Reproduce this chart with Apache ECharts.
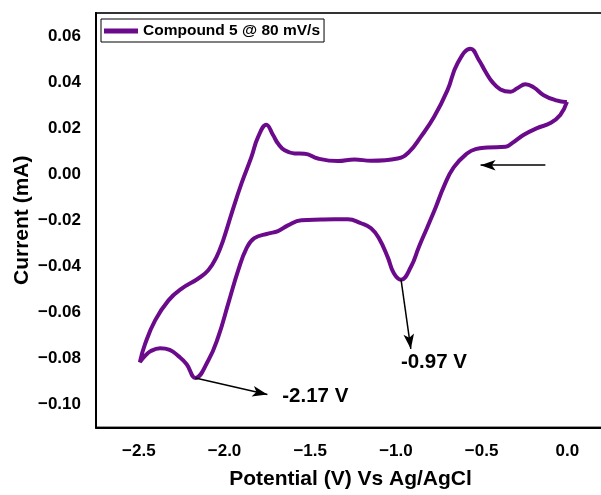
<!DOCTYPE html>
<html>
<head>
<meta charset="utf-8">
<script src="https://cdn.jsdelivr.net/npm/echarts/dist/echarts.min.js"></script>
<style>
  html, body { margin: 0; padding: 0; background: #ffffff; }
  #chart { width: 601px; height: 495px; }
</style>
</head>
<body>
<div id="chart"></div>
<script>
// Cyclic voltammogram: scan starts near 0 V, runs cathodic to -2.5 V, then back.
const potential = [
  -0.002, -0.041, -0.099, -0.176, -0.256, -0.322, -0.360, -0.467, -0.535, -0.583,
  -0.663, -0.721, -0.767, -0.816, -0.866, -0.913, -0.970, -1.012, -1.048, -1.099,
  -1.145, -1.203, -1.281, -1.360, -1.436, -1.552, -1.630, -1.688, -1.746, -1.826,
  -1.872, -1.920, -1.978, -2.037, -2.095, -2.170, -2.221, -2.269, -2.320, -2.376,
  -2.430, -2.465, -2.494,
  -2.463, -2.405, -2.327, -2.250, -2.153, -2.095, -2.047, -2.008, -1.959, -1.901,
  -1.843, -1.804, -1.756, -1.717, -1.688, -1.649, -1.591, -1.533, -1.455, -1.339,
  -1.242, -1.145, -0.990, -0.923, -0.855, -0.777, -0.699, -0.641, -0.564, -0.516,
  -0.477, -0.438, -0.390, -0.331, -0.292, -0.244, -0.196, -0.138, -0.070, -0.012,
  -0.002
];
const current = [
  0.0314, 0.0257, 0.0222, 0.0200, 0.0170, 0.0135, 0.0119, 0.0116, 0.0109, 0.0091,
  0.0030, -0.0055, -0.0142, -0.0229, -0.0316, -0.0403, -0.0458, -0.0430, -0.0360, -0.0278,
  -0.0235, -0.0213, -0.0196, -0.0196, -0.0197, -0.0200, -0.0222, -0.0247, -0.0258, -0.0278,
  -0.0322, -0.0417, -0.0561, -0.0707, -0.0809, -0.0885, -0.0825, -0.0790, -0.0763, -0.0756,
  -0.0768, -0.0790, -0.0816,
  -0.0736, -0.0635, -0.0548, -0.0497, -0.0453, -0.0417, -0.0360, -0.0287, -0.0171, -0.0040,
  0.0075, 0.0162, 0.0215, 0.0170, 0.0133, 0.0104, 0.0090, 0.0089, 0.0068, 0.0057,
  0.0064, 0.0058, 0.0068, 0.0097, 0.0162, 0.0249, 0.0365, 0.0481, 0.0545, 0.0496,
  0.0445, 0.0401, 0.0368, 0.0358, 0.0373, 0.0391, 0.0377, 0.0343, 0.0322, 0.0314,
  0.0314
];

const seriesName = 'Compound 5 @ 80 mV/s';

// Cathodic peaks: potential (V), current (mA), label text
const peakPotential = [-2.17, -0.97];
const peakCurrent = [-0.0885, -0.0458];
const peakText = ['-2.17 V', '-0.97 V'];
// Where each peak arrow ends and where its label sits (data units)
const arrowTip = [[-1.750, -0.0957], [-0.913, -0.0759]];
const labelAnchor = [[-1.663, -0.0965], [-0.971, -0.0815]];
// Scan-direction arrow (start, tip)
const scanArrow = [[-0.128, 0.0039], [-0.506, 0.0039]];

const FONT = '"Liberation Sans", Arial, Helvetica, sans-serif';
const PURPLE = '#6b0b8c';

function minusSign(s) { return s.replace('-', '\u2212'); }

const curve = potential.map((v, i) => [v, current[i]]);

const arrowLines = peakPotential.map((v, i) => [
  { coord: [v, peakCurrent[i]] },
  { coord: arrowTip[i] }
]);
arrowLines.push([{ coord: scanArrow[0] }, { coord: scanArrow[1] }]);

const chart = echarts.init(document.getElementById('chart'), null, { renderer: 'canvas' });

chart.setOption({
  animation: false,
  backgroundColor: '#ffffff',
  textStyle: { fontFamily: FONT },
  grid: {
    left: 96, top: 13, width: 509, height: 414.5,
    containLabel: false,
    outerBoundsMode: 'none',
    show: true, borderColor: '#333333', borderWidth: 2
  },
  legend: {
    data: [seriesName],
    left: 101, top: 19,
    orient: 'horizontal',
    icon: 'rect',
    itemWidth: 34, itemHeight: 5,
    padding: [4, 4, 3, 3],
    borderColor: '#000000', borderWidth: 1,
    backgroundColor: '#ffffff',
    textStyle: { fontFamily: FONT, fontWeight: 'bold', fontSize: 15.5, color: '#000000' }
  },
  xAxis: {
    type: 'value',
    min: -2.75, max: 0.22, interval: 0.25,
    name: 'Potential (V) Vs Ag/AgCl',
    nameLocation: 'middle', nameGap: 41,
    nameMoveOverlap: false,
    nameTextStyle: { fontFamily: FONT, fontWeight: 'bold', fontSize: 21, color: '#000000' },
    axisLine: { show: true, onZero: false, lineStyle: { color: '#000000', width: 2 } },
    axisTick: { show: false },
    splitLine: { show: false },
    axisLabel: {
      margin: 15, fontFamily: FONT, fontWeight: 'bold', fontSize: 17, color: '#000000',
      formatter: function (v) {
        const q = Math.round(v * 4);
        if (q % 2 !== 0 || v > 0.01) return '';
        return minusSign((q / 4).toFixed(1));
      }
    }
  },
  yAxis: {
    type: 'value',
    min: -0.11, max: 0.07, interval: 0.01,
    name: 'Current (mA)',
    nameLocation: 'middle', nameGap: 63,
    nameMoveOverlap: false,
    nameTextStyle: { fontFamily: FONT, fontWeight: 'bold', fontSize: 21, color: '#000000' },
    axisLine: { show: true, onZero: false, lineStyle: { color: '#000000', width: 2 } },
    axisTick: { show: false },
    splitLine: { show: false },
    axisLabel: {
      margin: 15, fontFamily: FONT, fontWeight: 'bold', fontSize: 17, color: '#000000',
      formatter: function (v) {
        const h = Math.round(v * 100);
        if (h % 2 !== 0 || h < -10 || h > 6) return '';
        return minusSign((h / 100).toFixed(2));
      }
    }
  },
  series: [
    {
      name: seriesName,
      type: 'line',
      data: curve,
      showSymbol: false,
      smooth: 0.45,
      color: PURPLE,
      lineStyle: { color: PURPLE, width: 4 },
      z: 3,
      markLine: {
        silent: true,
        symbol: ['none', 'arrow'],
        symbolSize: [8, 15],
        label: { show: false },
        lineStyle: { color: '#000000', width: 1.5, type: 'solid' },
        emphasis: { disabled: true },
        data: arrowLines
      }
    },
    {
      name: 'peak labels',
      type: 'scatter',
      symbolSize: 0,
      silent: true,
      z: 4,
      itemStyle: { opacity: 1 },
      data: labelAnchor.map((c, i) => ({ value: c, name: peakText[i] })),
      label: {
        show: true,
        position: 'right',
        distance: 0,
        opacity: 1,
        formatter: p => p.name,
        fontFamily: FONT, fontWeight: 'bold', fontSize: 20.5, color: '#000000'
      }
    }
  ]
});
</script>
</body>
</html>
